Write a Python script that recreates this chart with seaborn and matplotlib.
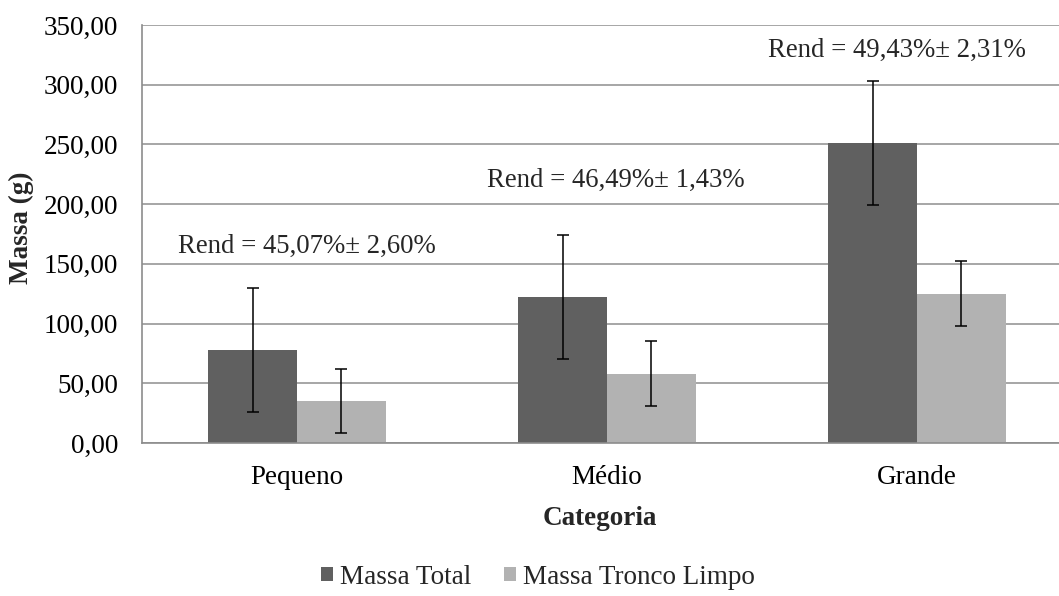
import pandas as pd
import numpy as np
import seaborn as sns
import matplotlib.pyplot as plt
from matplotlib.ticker import FuncFormatter, FixedLocator
from matplotlib.patches import Patch

categorias = ['Pequeno', 'Médio', 'Grande']
series = ['Massa Total', 'Massa Tronco Limpo']
massa_total = [77.8, 122.3, 251.2]
massa_tronco = [35.0, 58.0, 125.0]
erro_total = [52.2, 51.8, 52.2]
erro_tronco = [26.8, 27.0, 27.0]
rend_textos = ['Rend = 45,07%\u00b1 2,60%', 'Rend = 46,49%\u00b1 1,43%', 'Rend = 49,43%\u00b1 2,31%']
rend_pos = [(0.031, 165), (1.027, 220), (1.934, 329)]
cores = ['#606060', '#b2b2b2']

df = pd.DataFrame({
    'Categoria': categorias * 2,
    'Serie': [series[0]] * 3 + [series[1]] * 3,
    'Massa': massa_total + massa_tronco,
})
erros = {series[0]: erro_total, series[1]: erro_tronco}

sns.set_style('white')
plt.rcParams['font.family'] = ['Liberation Serif', 'DejaVu Serif']

fs = 19.5
fig = plt.figure(figsize=(10.59, 5.96), dpi=100)
ax = fig.add_axes([142 / 1059, 1 - 443 / 596, 930 / 1059, (443 - 25) / 596])

sns.barplot(data=df, x='Categoria', y='Massa', hue='Serie', order=categorias,
            hue_order=series, palette=cores, width=0.571, saturation=1,
            errorbar=None, legend=False, ax=ax, zorder=2, linewidth=0)

# barras de erro (desvio)
for cont, s in zip(ax.containers, series):
    xs = [b.get_x() + b.get_width() / 2 for b in cont]
    ys = [b.get_height() for b in cont]
    ax.errorbar(xs, ys, yerr=erros[s], fmt='none', ecolor='black',
                elinewidth=1.1, capsize=4.5, capthick=1.1, zorder=3)

for txt, (x, y) in zip(rend_textos, rend_pos):
    ax.text(x, y, txt, ha='center', va='center', fontsize=19.3)

ax.set_xlim(-0.5, 2.5)
ax.set_ylim(0, 350)
ax.set_yticks(np.arange(0, 351, 50))
ax.yaxis.set_major_formatter(FuncFormatter(lambda v, p: f'{v:.2f}'.replace('.', ',')))
ax.yaxis.grid(True, color='#a6a6a6', linewidth=1.4, zorder=0)
ax.set_axisbelow(True)

ax.xaxis.set_minor_locator(FixedLocator([-0.5, 0.5, 1.5, 2.5]))
ax.tick_params(axis='x', which='major', length=0, labelsize=fs, pad=16, labelcolor='black')
ax.tick_params(axis='x', which='minor', length=7, width=1, color='#8c8c8c', direction='out')
ax.tick_params(axis='y', length=7, width=1, color='#8c8c8c', direction='out',
               labelsize=fs, labelcolor='black', pad=10)

for sp in ['top', 'right']:
    ax.spines[sp].set_visible(False)
for sp in ['left', 'bottom']:
    ax.spines[sp].set_color('#8c8c8c')
    ax.spines[sp].set_linewidth(1.2)

ax.set_xlabel('Categoria', fontsize=fs, fontweight='bold')
ax.set_ylabel('Massa (g)', fontsize=fs, fontweight='bold')
ax.xaxis.set_label_coords((600 - 142) / 930, -63 / 418)
ax.yaxis.set_label_coords(-108 / 930, 0.515)

handles = [Patch(facecolor=c, edgecolor='none') for c in cores]
fig.legend(handles, series, loc='center', bbox_to_anchor=(538 / 1059, 1 - 577 / 596),
           ncol=2, frameon=False, fontsize=fs, handlelength=0.45, handleheight=0.45,
           handletextpad=0.25, columnspacing=1.2)

fig.savefig('out.png', dpi=100)
